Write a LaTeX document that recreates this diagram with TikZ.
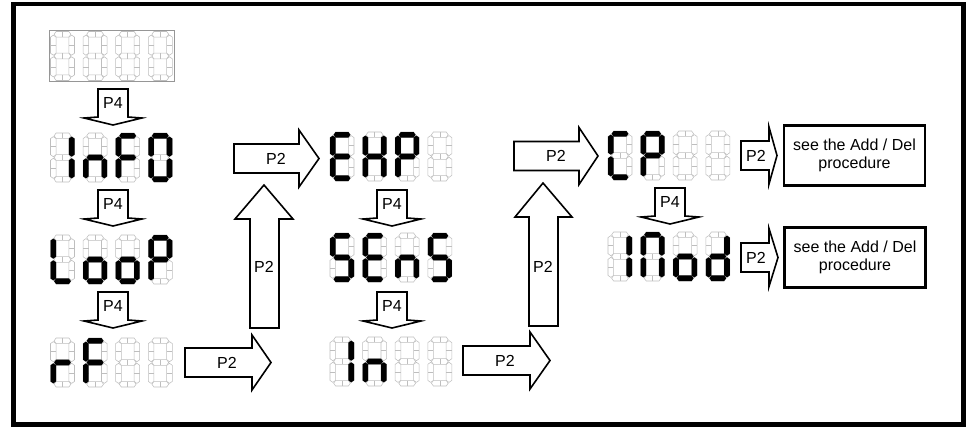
\documentclass[tikz,border=0pt]{standalone}
\usepackage{fontspec}
\setmainfont{Liberation Sans}
\definecolor{ghostgray}{RGB}{190,190,190}
\definecolor{boxgray}{RGB}{150,150,150}
\def\hh{2.8}
\def\cc{2.0}
\newcommand\segH[3]{(#1,#3) -- (#1+\cc,#3-\hh) -- (#2-\cc,#3-\hh) -- (#2,#3) -- (#2-\cc,#3+\hh) -- (#1+\cc,#3+\hh) -- cycle}
\newcommand\segV[3]{(#1,#2) -- (#1+\hh,#2+\cc) -- (#1+\hh,#3-\cc) -- (#1,#3) -- (#1-\hh,#3-\cc) -- (#1-\hh,#2+\cc) -- cycle}
\expandafter\def\csname sp@a\endcsname{\segH{3.6}{20.4}{2.8}}
\expandafter\def\csname sp@b\endcsname{\segV{21.2}{3.6}{23.7}}
\expandafter\def\csname sp@c\endcsname{\segV{21.2}{25.3}{45.4}}
\expandafter\def\csname sp@d\endcsname{\segH{3.6}{20.4}{46.2}}
\expandafter\def\csname sp@e\endcsname{\segV{2.8}{25.3}{45.4}}
\expandafter\def\csname sp@f\endcsname{\segV{2.8}{3.6}{23.7}}
\expandafter\def\csname sp@g\endcsname{\segH{3.6}{20.4}{24.5}}
\expandafter\def\csname sp@x\endcsname{}
\tikzset{
  ghost/.style={draw=ghostgray, fill=white, line width=0.55pt},
  ghostsplit/.style={draw=ghostgray, line width=0.55pt},
  blockarrow/.style={draw=black, fill=white, line width=1.6pt, line join=miter},
  lbl/.style={font=\fontsize{16}{19}\selectfont, inner sep=0pt},
  procbox/.style={draw=black, line width=2.8pt, minimum width=141pt, minimum height=60pt,
    align=center, inner sep=0pt, font=\fontsize{16}{18.5}\selectfont},
}
\newcommand\segdigit[3]{%
  \begin{scope}[shift={(#1,#2)}]
    \foreach \s in {a,b,c,d,e,f,g}{\draw[ghost] \csname sp@\s\endcsname;}
    \draw[ghostsplit] (12,0.3)--(12,5.3) (12,21.9)--(12,27.1) (12,43.6)--(12,48.8)
      (0.2,13.6)--(5.4,13.6) (0.2,35.4)--(5.4,35.4) (18.6,13.6)--(23.8,13.6) (18.6,35.4)--(23.8,35.4);
    \foreach \s in {#3}{\fill[black] \csname sp@\s\endcsname;}
  \end{scope}}
\newcommand\segdisp[6]{%
  \segdigit{#1}{#2}{#3}\segdigit{#1+32.6}{#2}{#4}\segdigit{#1+65.2}{#2}{#5}\segdigit{#1+97.8}{#2}{#6}}
\newcommand\downP[3]{%
  \draw[blockarrow] (#2-15,#3) -- (#2+15,#3) -- (#2+15,#3+28) -- (#2+29,#3+29) -- (#2,#3+36)
    -- (#2-29,#3+29) -- (#2-15,#3+28) -- cycle;
  \node[lbl] (#1) at (#2,#3+14) {P4};}
% name, xleft, ycenter, xbase, xtip, box half height, wing half height, label x
\newcommand\rightP[8]{%
  \draw[blockarrow] (#2,#3-#6) -- (#4,#3-#6) -- (#4,#3-#7) -- (#5,#3) -- (#4,#3+#7)
    -- (#4,#3+#6) -- (#2,#3+#6) -- cycle;
  \node[lbl] (#1) at (#8,#3) {P2};}
\begin{document}
\begin{tikzpicture}[x=1pt,y=-1pt]
\useasboundingbox (0,0) rectangle (971,428);
\draw[line width=4.5pt] (13.5,4) rectangle (963.5,424.5);

% column 1
\draw[boxgray, line width=0.8pt] (49,30) rectangle (174,81.5);
\segdisp{50.5}{31.5}{x}{x}{x}{x}
\segdisp{50.5}{133}{b,c}{c,e,g}{a,e,f,g}{a,b,c,d,e,f}
\segdisp{50.5}{235}{d,e,f}{c,d,e,g}{c,d,e,g}{a,b,e,f,g}
\segdisp{50.5}{338}{e,g}{a,e,f,g}{x}{x}
\downP{p4a}{113}{89}
\downP{p4b}{113}{190}
\downP{p4c}{113}{292}

% column 2
\segdisp{330}{132}{a,d,e,f,g}{b,c,e,f,g}{a,b,e,f,g}{x}
\segdisp{330}{233}{a,c,d,f,g}{a,d,e,f,g}{c,e,g}{a,c,d,f,g}
\segdisp{330}{337}{b,c}{c,e,g}{x}{x}
\downP{p4d}{392}{190}
\downP{p4e}{392}{292}

% column 3
\segdisp{608}{131}{a,d,e,f}{a,b,e,f,g}{x}{x}
\segdisp{608}{232}{b,c}{a,b,c,e,f}{c,d,e,g}{b,c,d,e,g}
\downP{p4f}{670}{188}

% horizontal P2 arrows
\rightP{p2a}{234}{158.5}{299}{319}{14.5}{28.5}{276}
\rightP{p2b}{185}{362.5}{252}{271}{14.5}{27.5}{227}
\rightP{p2c}{463}{360.5}{530}{550}{14.5}{28.5}{505}
\rightP{p2d}{514}{156}{579}{598}{14.5}{28.5}{556}
\rightP{p2e}{741}{155.5}{769}{777}{14.5}{28.5}{756}
\rightP{p2f}{741}{257.5}{769}{778}{14.5}{29}{756}

% vertical P2 arrows
\draw[blockarrow] (250,328) -- (279,328) -- (279,219) -- (293,219) -- (264,185) -- (235,219) -- (250,219) -- cycle;
\node[lbl] (p2g) at (264,267) {P2};
\draw[blockarrow] (529,326) -- (558,326) -- (558,217) -- (572,217) -- (543,183) -- (515,217) -- (529,217) -- cycle;
\node[lbl] (p2h) at (543,267) {P2};

% procedure boxes
\node[procbox] (boxa) at (854.5,155.5) {see the Add / Del\\procedure};
\node[procbox] (boxb) at (855,257.5) {see the Add / Del\\procedure};
\end{tikzpicture}
\end{document}
